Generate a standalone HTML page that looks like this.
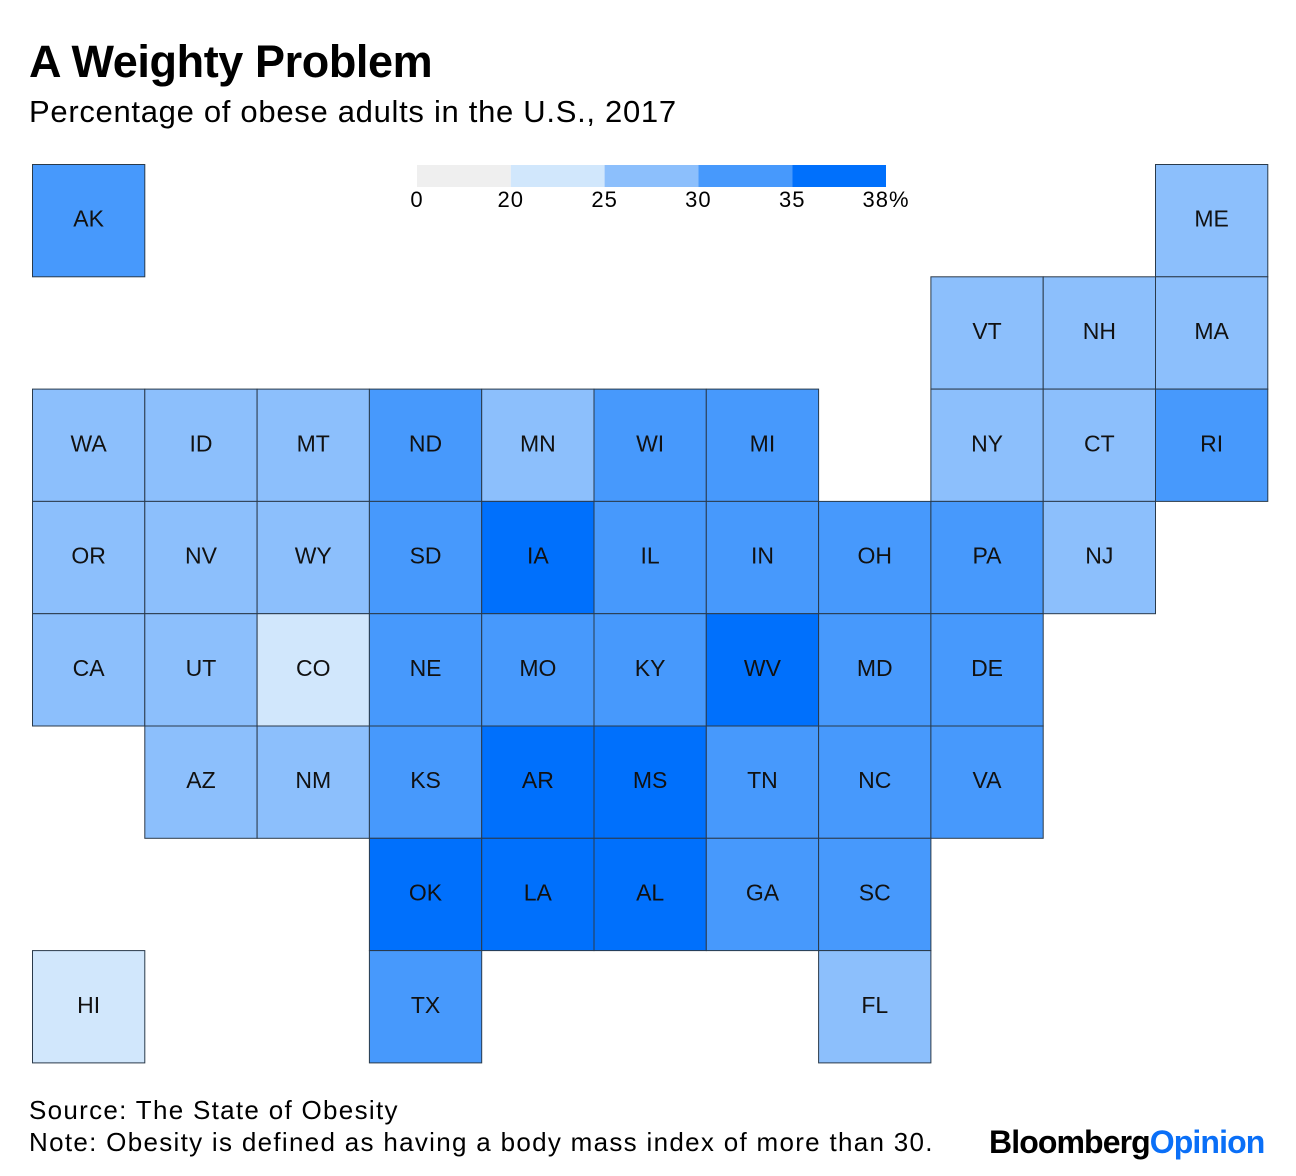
<!DOCTYPE html>
<html><head><meta charset="utf-8"><style>
body{margin:0;background:#fff;width:1296px;height:1176px;overflow:hidden;font-family:"Liberation Sans",sans-serif}
#title{position:absolute;left:29px;top:36px;font-size:45px;font-weight:bold;color:#000;letter-spacing:-0.4px}
#sub{position:absolute;left:29px;top:94px;font-size:31px;color:#000;letter-spacing:0.7px}
#src{position:absolute;left:29px;top:1094px;font-size:26px;line-height:32px;color:#000;letter-spacing:1.3px;white-space:nowrap}
#logo{position:absolute;left:989px;top:1124px;font-size:32px;font-weight:bold;letter-spacing:-0.9px;color:#000}
#logo span{color:#0a6ff7}
svg{position:absolute;left:0;top:0}
</style></head><body>
<div id="title">A Weighty Problem</div>
<div id="sub">Percentage of obese adults in the U.S., 2017</div>
<svg id="chart" width="1296" height="1176"></svg>
<div id="src">Source: The State of Obesity<br>Note: Obesity is defined as having a body mass index of more than 30.</div>
<div id="logo">Bloomberg<span>Opinion</span></div>
<script>
const states=["AK","ME","VT","NH","MA","WA","ID","MT","ND","MN","WI","MI","NY","CT","RI","OR","NV","WY","SD","IA","IL","IN","OH","PA","NJ","CA","UT","CO","NE","MO","KY","WV","MD","DE","AZ","NM","KS","AR","MS","TN","NC","VA","OK","LA","AL","GA","SC","HI","TX","FL"];
const cols=[0,10,8,9,10,0,1,2,3,4,5,6,8,9,10,0,1,2,3,4,5,6,7,8,9,0,1,2,3,4,5,6,7,8,1,2,3,4,5,6,7,8,3,4,5,6,7,0,3,7];
const rows=[0,0,1,1,1,2,2,2,2,2,2,2,2,2,2,3,3,3,3,3,3,3,3,3,3,4,4,4,4,4,4,4,4,4,5,5,5,5,5,5,5,5,6,6,6,6,6,7,7,7];
const values=[34.2,29.1,27.6,28.1,25.9,28.6,28.4,25.5,33.2,28.4,32.0,32.3,25.7,26.9,30.0,29.0,26.7,28.8,31.9,36.4,31.8,33.6,33.8,30.3,27.3,25.1,25.2,22.6,32.8,32.5,34.3,37.9,31.3,31.8,29.0,28.3,34.2,35.0,37.3,33.8,32.1,30.1,36.5,36.2,36.3,31.6,34.3,23.8,33.0,28.4];
const binEdges=[0,20,25,30,35,38];
const binLabels=["0","20","25","30","35","38%"];
const binColors=["#efefef","#d1e7fc","#8cbffc","#4799fc","#0070fc"];
const svg=document.getElementById('chart');const NS="http://www.w3.org/2000/svg";
const X0=32.5,Y0=164.5,W=112.3;
const cx=c=>X0+c*W, cy=r=>Y0+r*W;
function colorFor(v){for(let i=binEdges.length-2;i>=0;i--){if(v>=binEdges[i])return binColors[i];}return binColors[0];}
const LX0=417,LX1=886;const lx=v=>LX0+(binEdges.indexOf(v))*(LX1-LX0)/(binEdges.length-1);
for(let i=0;i<binColors.length;i++){
 const r=document.createElementNS(NS,'rect');
 
 
 r.setAttribute('x',lx(binEdges[i]));r.setAttribute('y',165);r.setAttribute('width',lx(binEdges[i+1])-lx(binEdges[i]));r.setAttribute('height',22);r.setAttribute('fill',binColors[i]);svg.appendChild(r);
}
binEdges.forEach((e,i)=>{
 const t=document.createElementNS(NS,'text');
 
 
 t.setAttribute('x',lx(e));t.setAttribute('y',207);t.setAttribute('text-anchor','middle');t.setAttribute('font-size','22');t.setAttribute('letter-spacing','1');t.setAttribute('font-family','Liberation Sans, sans-serif');t.textContent=binLabels[i];svg.appendChild(t);
});
states.forEach((s,i)=>{
 const g=document.createElementNS(NS,'g');
 
 
 const r=document.createElementNS(NS,'rect');
 r.setAttribute('x',cx(cols[i]));r.setAttribute('y',cy(rows[i]));r.setAttribute('width',W);r.setAttribute('height',W);r.setAttribute('fill',colorFor(values[i]));r.setAttribute('stroke','#2a3a4a');r.setAttribute('stroke-width','1');g.appendChild(r);
 const t=document.createElementNS(NS,'text');
 t.setAttribute('x',cx(cols[i])+W/2);t.setAttribute('y',cy(rows[i])+W/2+6);t.setAttribute('text-anchor','middle');t.setAttribute('font-size','23');t.setAttribute('font-family','Liberation Sans, sans-serif');t.setAttribute('fill','#111');t.textContent=s;g.appendChild(t);
 svg.appendChild(g);
});
</script>
</body></html>
